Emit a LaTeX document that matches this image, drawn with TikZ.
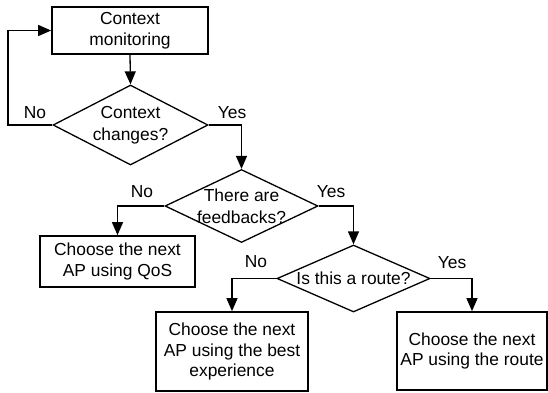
\documentclass[tikz,border=0pt]{standalone}
\usepackage{fontspec}
\setmainfont{Liberation Sans}
\usetikzlibrary{shapes.geometric,arrows.meta}
\tikzset{
  procbox/.style={draw, line width=1.7pt, inner sep=0pt, align=center,
    font=\fontsize{17.4}{20.5}\selectfont},
  decision/.style={draw, diamond, line width=1.3pt, inner sep=0pt},
  dtext/.style={align=center, font=\fontsize{17.4}{22}\selectfont, inner sep=0pt},
  arr/.style={line width=1.3pt, -{Triangle[width=11pt,length=13pt]}},
  lbl/.style={font=\fontsize{17.4}{20.5}\selectfont, inner sep=0pt}
}
\begin{document}
\begin{tikzpicture}[x=1pt,y=-1pt]
\useasboundingbox (0,0) rectangle (548,392);
\node[procbox, minimum width=156pt, minimum height=47pt] (b1) at (130,30.5) {Context\\monitoring};
\node[decision, minimum width=155pt, minimum height=80pt,
  label={[dtext]center:Context\\changes?}] (d1) at (130.5,125) {};
\node[decision, minimum width=153pt, minimum height=73pt,
  label={[dtext]center:There are\\feedbacks?}] (d2) at (241.5,206) {};
\node[procbox, minimum width=155pt, minimum height=51pt] (b2) at (117.5,261.5) {Choose the next\\AP using QoS};
\node[decision, minimum width=153pt, minimum height=67pt,
  label={[dtext]center:Is this a route?}] (d3) at (353.5,278.5) {};
\node[procbox, minimum width=152pt, minimum height=79pt] (b3) at (232,351.5) {Choose the next\\AP using the best\\experience};
\node[procbox, minimum width=150pt, minimum height=78pt] (b4) at (472,351) {Choose the next\\AP using the route};

\coordinate (loop) at (8,125);
\draw[arr] (b1.south) -- (d1.north);
\draw[arr] (d1.west) -- (loop) |- (b1.west);
\draw[arr] (d1.east) -| (d2.north);
\draw[arr] (d2.west) -| (b2.north);
\draw[arr] (d2.east) -| (d3.north);
\draw[arr] (d3.west) -| (b3.north);
\draw[arr] (d3.east) -| (b4.north);

\node[lbl] (n1) at (35,113) {No};
\node[lbl] (y1) at (232,113) {Yes};
\node[lbl] (n2) at (142,192) {No};
\node[lbl] (y2) at (331,192) {Yes};
\node[lbl] (n3) at (256,262) {No};
\node[lbl] (y3) at (452,263) {Yes};
\end{tikzpicture}
\end{document}
